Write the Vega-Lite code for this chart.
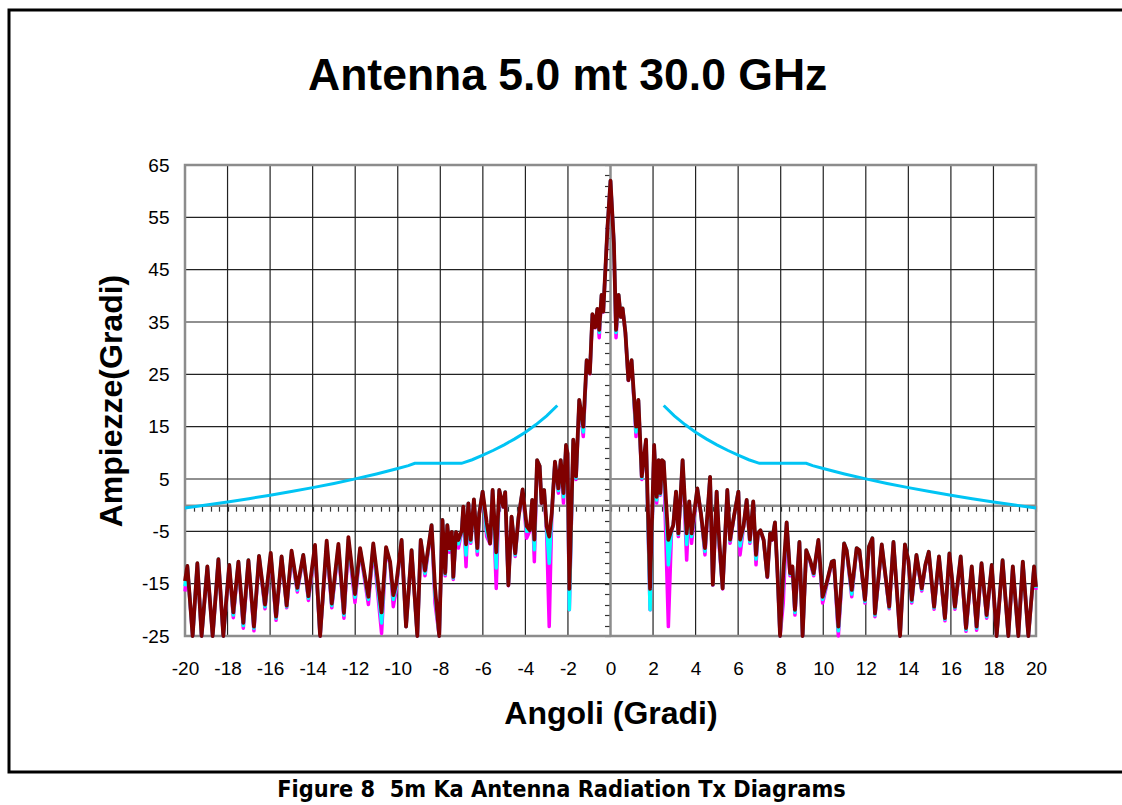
{
"$schema": "https://vega.github.io/schema/vega-lite/v6.json",
"autosize": {"type": "none"},
"padding": {"left": 9, "top": 10, "right": -20, "bottom": 33},
"width": 1133,
"height": 762,
"background": "white",
"config": {"view": {"stroke": "#000000", "strokeWidth": 3}, "font": "Liberation Sans"},
"title": {"text": "Antenna 5.0 mt 30.0 GHz", "font": "Liberation Sans", "fontSize": 44.5, "fontWeight": "bold", "color": "#000000", "anchor": "start", "frame": "group", "offset": -89, "dx": 299},
"resolve": {"axis": {"x": "independent", "y": "independent"}},
"datasets": {
"vgrid": [{"g":-18},{"g":-16},{"g":-14},{"g":-12},{"g":-10},{"g":-8},{"g":-6},{"g":-4},{"g":-2},{"g":2},{"g":4},{"g":6},{"g":8},{"g":10},{"g":12},{"g":14},{"g":16},{"g":18}],
"hgrid": [{"g":-15},{"g":-5},{"g":5},{"g":15},{"g":25},{"g":35},{"g":45},{"g":55}],
"mask": [
{"a":-20,"v":-0.53,"s":"L"},{"a":-19,"v":0.03,"s":"L"},{"a":-18,"v":0.62,"s":"L"},{"a":-17,"v":1.24,"s":"L"},{"a":-16,"v":1.9,"s":"L"},{"a":-15,"v":2.6,"s":"L"},{"a":-14,"v":3.35,"s":"L"},{"a":-13,"v":4.15,"s":"L"},{"a":-12,"v":5.02,"s":"L"},{"a":-11,"v":5.97,"s":"L"},{"a":-10,"v":7.0,"s":"L"},{"a":-9.5,"v":7.56,"s":"L"},{"a":-9.2,"v":8.0,"s":"L"},{"a":-7,"v":8.0,"s":"L"},{"a":-6.5,"v":8.68,"s":"L"},{"a":-6,"v":9.55,"s":"L"},{"a":-5.5,"v":10.49,"s":"L"},{"a":-5,"v":11.53,"s":"L"},{"a":-4.5,"v":12.67,"s":"L"},{"a":-4,"v":13.95,"s":"L"},{"a":-3.5,"v":15.4,"s":"L"},{"a":-3,"v":17.07,"s":"L"},{"a":-2.5,"v":19.05,"s":"L"},
{"a":2.5,"v":19.05,"s":"R"},{"a":3,"v":17.07,"s":"R"},{"a":3.5,"v":15.4,"s":"R"},{"a":4,"v":13.95,"s":"R"},{"a":4.5,"v":12.67,"s":"R"},{"a":5,"v":11.53,"s":"R"},{"a":5.5,"v":10.49,"s":"R"},{"a":6,"v":9.55,"s":"R"},{"a":6.5,"v":8.68,"s":"R"},{"a":7,"v":8.0,"s":"R"},{"a":9.2,"v":8.0,"s":"R"},{"a":9.5,"v":7.56,"s":"R"},{"a":10,"v":7.0,"s":"R"},{"a":11,"v":5.97,"s":"R"},{"a":12,"v":5.02,"s":"R"},{"a":13,"v":4.15,"s":"R"},{"a":14,"v":3.35,"s":"R"},{"a":15,"v":2.6,"s":"R"},{"a":16,"v":1.9,"s":"R"},{"a":17,"v":1.24,"s":"R"},{"a":18,"v":0.62,"s":"R"},{"a":19,"v":0.03,"s":"R"},{"a":20,"v":-0.53,"s":"R"}
],
"pattern": [
{"a":-20,"r":-14.5,"c":-15.5,"m":-16.5},
{"a":-19.89,"r":-11.6,"c":-11.6,"m":-11.8},
{"a":-19.64,"r":-28,"c":-28,"m":-28},
{"a":-19.42,"r":-11.1,"c":-11.1,"m":-11.3},
{"a":-19.22,"r":-26,"c":-26,"m":-26},
{"a":-18.95,"r":-11.7,"c":-11.7,"m":-11.9},
{"a":-18.7,"r":-28,"c":-28,"m":-28},
{"a":-18.43,"r":-10.3,"c":-10.3,"m":-10.5},
{"a":-18.2,"r":-28,"c":-28,"m":-28},
{"a":-17.92,"r":-11.4,"c":-11.4,"m":-11.6},
{"a":-17.73,"r":-20.5,"c":-21,"m":-21.5},
{"a":-17.49,"r":-10.8,"c":-10.8,"m":-11},
{"a":-17.26,"r":-22.5,"c":-23,"m":-23.5},
{"a":-17.02,"r":-10.5,"c":-10.5,"m":-10.7},
{"a":-16.76,"r":-23.2,"c":-23.5,"m":-24},
{"a":-16.52,"r":-9.7,"c":-9.7,"m":-9.9},
{"a":-16.24,"r":-19,"c":-19.4,"m":-19.8},
{"a":-15.97,"r":-9.1,"c":-9.2,"m":-9.6},
{"a":-15.72,"r":-21.3,"c":-21.6,"m":-22},
{"a":-15.46,"r":-9.8,"c":-9.8,"m":-10},
{"a":-15.22,"r":-19.2,"c":-19.4,"m":-19.6},
{"a":-14.99,"r":-8.7,"c":-9,"m":-9.5},
{"a":-14.72,"r":-15.8,"c":-16.2,"m":-16.6},
{"a":-14.44,"r":-9.5,"c":-9.5,"m":-9.7},
{"a":-14.2,"r":-17.4,"c":-17.8,"m":-18.2},
{"a":-13.89,"r":-7.6,"c":-8,"m":-8.6},
{"a":-13.65,"r":-28,"c":-28,"m":-28},
{"a":-13.34,"r":-6.8,"c":-7.2,"m":-7.9},
{"a":-13.1,"r":-18.8,"c":-19.2,"m":-19.6},
{"a":-12.79,"r":-7.4,"c":-7.8,"m":-8.3},
{"a":-12.53,"r":-20.6,"c":-21,"m":-21.6},
{"a":-12.32,"r":-6.1,"c":-6.6,"m":-7.4},
{"a":-12.01,"r":-17,"c":-17.6,"m":-18.6},
{"a":-11.77,"r":-8.2,"c":-8.4,"m":-8.6},
{"a":-11.38,"r":-17.5,"c":-18,"m":-19},
{"a":-11.15,"r":-7.3,"c":-7.6,"m":-8},
{"a":-10.76,"r":-20.5,"c":-22.5,"m":-24.5},
{"a":-10.55,"r":-8,"c":-8.2,"m":-8.5},
{"a":-10.36,"r":-10.8,"c":-11,"m":-11.3},
{"a":-10.21,"r":-17.2,"c":-18,"m":-19.4},
{"a":-10.07,"r":-15,"c":-15.5,"m":-16},
{"a":-9.82,"r":-6.65,"c":-6.7,"m":-6.9},
{"a":-9.61,"r":-23.2,"c":-23.2,"m":-23.2},
{"a":-9.35,"r":-8.6,"c":-8.6,"m":-8.8},
{"a":-9.08,"r":-28,"c":-28,"m":-28},
{"a":-8.92,"r":-6.65,"c":-6.65,"m":-6.8},
{"a":-8.72,"r":-12.5,"c":-13,"m":-13.5},
{"a":-8.41,"r":-3.8,"c":-3.8,"m":-4},
{"a":-8.25,"r":-15.6,"c":-17,"m":-18.7},
{"a":-8.05,"r":-28,"c":-28,"m":-28},
{"a":-7.9,"r":-2.8,"c":-2.8,"m":-2.9},
{"a":-7.77,"r":-13,"c":-13.2,"m":-13.5},
{"a":-7.67,"r":-3.8,"c":-3.8,"m":-3.9},
{"a":-7.57,"r":-8.2,"c":-8.5,"m":-9},
{"a":-7.46,"r":-5.1,"c":-5.1,"m":-5.2},
{"a":-7.39,"r":-13.7,"c":-13.9,"m":-14.2},
{"a":-7.26,"r":-5.1,"c":-5.1,"m":-5.2},
{"a":-7.15,"r":-6.65,"c":-7.4,"m":-8.2},
{"a":-6.99,"r":-4.8,"c":-4.8,"m":-4.9},
{"a":-6.92,"r":-0.3,"c":-0.3,"m":-0.4},
{"a":-6.79,"r":-7.5,"c":-9.5,"m":-11.75},
{"a":-6.68,"r":0.36,"c":0.36,"m":0.3},
{"a":-6.57,"r":-6.65,"c":-7,"m":-7.3},
{"a":-6.42,"r":1.1,"c":1.1,"m":1},
{"a":-6.26,"r":-8.2,"c":-8.8,"m":-9.5},
{"a":-6.17,"r":-1.6,"c":-1.6,"m":-1.7},
{"a":-6.01,"r":2.6,"c":2.6,"m":2.5},
{"a":-5.82,"r":-3.3,"c":-5,"m":-6},
{"a":-5.66,"r":-7.3,"c":-7.3,"m":-7.4},
{"a":-5.54,"r":2.9,"c":2.9,"m":2.8},
{"a":-5.37,"r":-9,"c":-12,"m":-15.9},
{"a":-5.23,"r":2.9,"c":2.9,"m":2.8},
{"a":-5.04,"r":-0.3,"c":-0.3,"m":-0.4},
{"a":-4.95,"r":2.5,"c":2.5,"m":2.4},
{"a":-4.8,"r":-15.3,"c":-15.3,"m":-15.4},
{"a":-4.65,"r":-2.2,"c":-2.2,"m":-2.3},
{"a":-4.48,"r":-9.2,"c":-9.5,"m":-9.8},
{"a":-4.32,"r":-2.2,"c":-2.2,"m":-2.3},
{"a":-4.13,"r":3,"c":3,"m":2.9},
{"a":-3.94,"r":-4,"c":-5,"m":-6.3},
{"a":-3.79,"r":-4.8,"c":-4.8,"m":-4.9},
{"a":-3.68,"r":1,"c":1,"m":0.9},
{"a":-3.58,"r":-6.6,"c":-8.5,"m":-10.8},
{"a":-3.45,"r":8.6,"c":8.6,"m":8.5},
{"a":-3.33,"r":7.5,"c":7.5,"m":7.4},
{"a":-3.24,"r":0.4,"c":0.4,"m":0.3},
{"a":-3.12,"r":2.9,"c":2.9,"m":2.8},
{"a":-3,"r":-4.1,"c":-4.5,"m":-5.5},
{"a":-2.88,"r":-6,"c":-11.1,"m":-23.2},
{"a":-2.76,"r":-1.5,"c":-1.5,"m":-1.6},
{"a":-2.61,"r":8.3,"c":8.3,"m":8.2},
{"a":-2.45,"r":3.2,"c":2.8,"m":2.3},
{"a":-2.34,"r":8.6,"c":8.6,"m":8.5},
{"a":-2.21,"r":2.3,"c":1.6,"m":0.4},
{"a":-2.09,"r":11.5,"c":11.5,"m":11.4},
{"a":-2.02,"r":9.9,"c":9.9,"m":9.8},
{"a":-1.935,"r":-16,"c":-20,"m":-20},
{"a":-1.75,"r":12.5,"c":12.5,"m":12.4},
{"a":-1.62,"r":5.5,"c":5.2,"m":4.9},
{"a":-1.47,"r":20.1,"c":20.1,"m":20},
{"a":-1.28,"r":15,"c":14,"m":13.1},
{"a":-1.12,"r":27.7,"c":27.7,"m":27.6},
{"a":-0.97,"r":25.2,"c":25.2,"m":25.1},
{"a":-0.85,"r":36.5,"c":36.5,"m":36.4},
{"a":-0.72,"r":34,"c":34,"m":33.9},
{"a":-0.62,"r":37.5,"c":37.5,"m":37.4},
{"a":-0.53,"r":33.5,"c":33,"m":32},
{"a":-0.42,"r":40.2,"c":40.2,"m":40.1},
{"a":-0.34,"r":37,"c":37,"m":36.9},
{"a":-0.14,"r":53.2,"c":53.2,"m":53.1},
{"a":0,"r":62,"c":62,"m":61.9},
{"a":0.16,"r":50,"c":50,"m":49.9},
{"a":0.26,"r":33.5,"c":33,"m":32},
{"a":0.38,"r":40.2,"c":40.2,"m":40.1},
{"a":0.48,"r":36,"c":36,"m":35.9},
{"a":0.57,"r":37.6,"c":37.6,"m":37.5},
{"a":0.7,"r":33,"c":33,"m":32.9},
{"a":0.84,"r":23.9,"c":23.9,"m":23.8},
{"a":0.99,"r":27.7,"c":27.7,"m":27.6},
{"a":1.2,"r":15,"c":14,"m":13.1},
{"a":1.31,"r":20.1,"c":20.1,"m":20},
{"a":1.47,"r":5.5,"c":5.2,"m":4.9},
{"a":1.67,"r":12.5,"c":12.5,"m":12.4},
{"a":1.86,"r":-16,"c":-20,"m":-20},
{"a":2.05,"r":11.5,"c":11.5,"m":11.4},
{"a":2.17,"r":1.6,"c":1,"m":0.4},
{"a":2.26,"r":8.6,"c":8.6,"m":8.5},
{"a":2.34,"r":2.3,"c":2.1,"m":1.9},
{"a":2.42,"r":8.6,"c":8.6,"m":8.5},
{"a":2.5,"r":8.3,"c":8.3,"m":8.2},
{"a":2.72,"r":-6.65,"c":-11.4,"m":-23.2},
{"a":2.87,"r":-4.7,"c":-4.7,"m":-4.8},
{"a":2.95,"r":-3.8,"c":-3.8,"m":-3.9},
{"a":3.08,"r":2.6,"c":2.6,"m":2.5},
{"a":3.19,"r":-5.4,"c":-5.6,"m":-6},
{"a":3.39,"r":8.6,"c":8.6,"m":8.5},
{"a":3.58,"r":-5.4,"c":-7.5,"m":-10.5},
{"a":3.7,"r":0.7,"c":0.7,"m":0.6},
{"a":3.81,"r":-5.4,"c":-6,"m":-7.3},
{"a":4.08,"r":3.2,"c":3.2,"m":3.1},
{"a":4.25,"r":-1.6,"c":-1.6,"m":-1.7},
{"a":4.44,"r":-8.2,"c":-8.8,"m":-9.5},
{"a":4.68,"r":5.4,"c":5.4,"m":5.3},
{"a":4.81,"r":-15.2,"c":-15.2,"m":-15.3},
{"a":4.99,"r":2.6,"c":2.6,"m":2.5},
{"a":5.11,"r":-6.65,"c":-7.2,"m":-7.9},
{"a":5.27,"r":-15.9,"c":-15.9,"m":-16},
{"a":5.49,"r":2.9,"c":2.9,"m":2.8},
{"a":5.62,"r":-6.6,"c":-6.8,"m":-7.3},
{"a":5.8,"r":-2.2,"c":-2.2,"m":-2.3},
{"a":6.01,"r":2.6,"c":2.6,"m":2.5},
{"a":6.09,"r":-6.6,"c":-7.8,"m":-9.5},
{"a":6.25,"r":-4.1,"c":-4.1,"m":-4.2},
{"a":6.4,"r":1,"c":1,"m":0.9},
{"a":6.55,"r":-6.6,"c":-7,"m":-7.3},
{"a":6.71,"r":0.7,"c":0.7,"m":0.6},
{"a":6.84,"r":-9.5,"c":-10.3,"m":-11.4},
{"a":6.93,"r":-5.4,"c":-5.4,"m":-5.5},
{"a":7.05,"r":-4.8,"c":-4.8,"m":-4.9},
{"a":7.2,"r":-6.65,"c":-6.7,"m":-6.8},
{"a":7.37,"r":-13.7,"c":-13.7,"m":-13.8},
{"a":7.5,"r":-5.4,"c":-5.4,"m":-5.5},
{"a":7.6,"r":-6.6,"c":-6.6,"m":-6.7},
{"a":7.73,"r":-3.3,"c":-3.3,"m":-3.4},
{"a":7.85,"r":-13,"c":-13,"m":-13.1},
{"a":7.97,"r":-28,"c":-28,"m":-28},
{"a":8.12,"r":-13,"c":-14.5,"m":-18.7},
{"a":8.28,"r":-3.3,"c":-3.3,"m":-3.4},
{"a":8.44,"r":-13,"c":-13.2,"m":-13.5},
{"a":8.55,"r":-11.7,"c":-11.8,"m":-12},
{"a":8.67,"r":-20,"c":-20.5,"m":-21},
{"a":8.88,"r":-7,"c":-7,"m":-7.2},
{"a":9.03,"r":-28,"c":-28,"m":-28},
{"a":9.2,"r":-8.6,"c":-8.6,"m":-8.8},
{"a":9.38,"r":-10.5,"c":-10.6,"m":-10.8},
{"a":9.55,"r":-13,"c":-13.2,"m":-13.5},
{"a":9.77,"r":-6.65,"c":-6.7,"m":-6.9},
{"a":9.97,"r":-17.5,"c":-18,"m":-18.7},
{"a":10.15,"r":-15,"c":-15.2,"m":-15.5},
{"a":10.4,"r":-10.8,"c":-10.8,"m":-11},
{"a":10.5,"r":-10.6,"c":-10.6,"m":-10.8},
{"a":10.71,"r":-23.2,"c":-24,"m":-25.5},
{"a":10.98,"r":-7.3,"c":-7.3,"m":-7.5},
{"a":11.1,"r":-8.6,"c":-8.6,"m":-8.8},
{"a":11.34,"r":-16.2,"c":-17,"m":-17.5},
{"a":11.57,"r":-8.2,"c":-8.2,"m":-8.4},
{"a":11.7,"r":-8.6,"c":-8.6,"m":-8.8},
{"a":11.96,"r":-18.1,"c":-18.4,"m":-18.7},
{"a":12.15,"r":-7.9,"c":-7.9,"m":-8.1},
{"a":12.31,"r":-6.3,"c":-6.3,"m":-6.5},
{"a":12.43,"r":-20.7,"c":-21,"m":-21.3},
{"a":12.75,"r":-7.5,"c":-7.5,"m":-7.7},
{"a":13.1,"r":-19.4,"c":-19.6,"m":-19.8},
{"a":13.3,"r":-7,"c":-7,"m":-7.2},
{"a":13.61,"r":-28,"c":-28,"m":-28},
{"a":13.84,"r":-7.5,"c":-7.5,"m":-7.7},
{"a":14,"r":-10.5,"c":-10.5,"m":-10.7},
{"a":14.16,"r":-18.1,"c":-18.4,"m":-18.7},
{"a":14.38,"r":-9.5,"c":-9.5,"m":-9.7},
{"a":14.63,"r":-15.9,"c":-16.1,"m":-16.4},
{"a":14.8,"r":-11.4,"c":-11.4,"m":-11.6},
{"a":14.96,"r":-8.9,"c":-8.9,"m":-9.1},
{"a":15.21,"r":-19.4,"c":-19.6,"m":-19.9},
{"a":15.44,"r":-9.8,"c":-9.8,"m":-10},
{"a":15.72,"r":-21.6,"c":-21.8,"m":-22.1},
{"a":15.93,"r":-9.2,"c":-9.2,"m":-9.4},
{"a":16.19,"r":-19.4,"c":-19.6,"m":-19.9},
{"a":16.46,"r":-9.8,"c":-9.8,"m":-10},
{"a":16.71,"r":-23.5,"c":-23.8,"m":-24.1},
{"a":16.98,"r":-11.7,"c":-11.7,"m":-11.9},
{"a":17.21,"r":-23.2,"c":-23.5,"m":-23.9},
{"a":17.44,"r":-11.1,"c":-11.1,"m":-11.3},
{"a":17.68,"r":-21,"c":-21.3,"m":-21.6},
{"a":17.92,"r":-11.4,"c":-11.4,"m":-11.6},
{"a":18.15,"r":-28,"c":-28,"m":-28},
{"a":18.43,"r":-10.5,"c":-10.5,"m":-10.7},
{"a":18.7,"r":-28,"c":-28,"m":-28},
{"a":18.91,"r":-11.7,"c":-11.7,"m":-11.9},
{"a":19.17,"r":-28,"c":-28,"m":-28},
{"a":19.38,"r":-10.8,"c":-10.8,"m":-11},
{"a":19.64,"r":-28,"c":-28,"m":-28},
{"a":19.91,"r":-11.7,"c":-11.7,"m":-11.9},
{"a":20,"r":-15.6,"c":-15.8,"m":-16.2}
]
},
"layer": [
{
"data": {"name": "vgrid"},
"mark": {"type": "rule", "color": "#222222", "strokeWidth": 1.2},
"encoding": {
"x": {"field": "g", "type": "quantitative",
 "scale": {"domain": [-20, 20], "range": [176, 1027], "nice": false, "zero": false},
 "axis": {"orient": "bottom", "offset": -136, "values": [-20,-18,-16,-14,-12,-10,-8,-6,-4,-2,0,2,4,6,8,10,12,14,16,18,20],
  "domain": false, "ticks": false, "tickSize": 0, "grid": false,
  "labelFont": "Liberation Sans", "labelFontSize": 19, "labelColor": "#000000", "labelPadding": 23,
  "labelFlush": false, "labelOverlap": false, "labelBound": false, "labelExpr": "'' + datum.value",
  "title": "Angoli (Gradi)", "titleFont": "Liberation Sans", "titleFontSize": 32, "titleFontWeight": "bold",
  "titleColor": "#000000", "titleBaseline": "alphabetic", "titleY": 87}},
"y": {"datum": -25, "type": "quantitative",
 "scale": {"domain": [-25, 65], "range": [626, 155], "nice": false, "zero": false, "clamp": true},
 "axis": {"orient": "left", "offset": -176, "values": [-25,-15,-5,5,15,25,35,45,55,65],
  "domain": false, "ticks": false, "tickSize": 0, "grid": false,
  "labelFont": "Liberation Sans", "labelFontSize": 19, "labelColor": "#000000", "labelPadding": 16,
  "labelFlush": false, "labelOverlap": false, "labelBound": false, "labelExpr": "'' + datum.value",
  "title": "Ampiezze(Gradi)", "titleFont": "Liberation Sans", "titleFontSize": 32, "titleFontWeight": "bold",
  "titleColor": "#000000", "titleBaseline": "alphabetic", "titleAngle": -90, "titleX": -64}},
"y2": {"datum": 65}
}
},
{
"data": {"name": "hgrid"},
"mark": {"type": "rule", "color": "#222222", "strokeWidth": 1.2},
"encoding": {
"y": {"field": "g", "type": "quantitative", "axis": null},
"x": {"datum": -20, "type": "quantitative", "axis": null},
"x2": {"datum": 20}
}
},
{
"data": {"values": [{}]},
"mark": {"type": "rule", "color": "#8c8c8c", "strokeWidth": 2.5},
"encoding": {
"x": {"datum": 0, "type": "quantitative",
 "axis": {"orient": "bottom", "offset": -266.83, "values": [-20,-19.6,-19.2,-18.8,-18.4,-18,-17.6,-17.2,-16.8,-16.4,-16,-15.6,-15.2,-14.8,-14.4,-14,-13.6,-13.2,-12.8,-12.4,-12,-11.6,-11.2,-10.8,-10.4,-10,-9.6,-9.2,-8.8,-8.4,-8,-7.6,-7.2,-6.8,-6.4,-6,-5.6,-5.2,-4.8,-4.4,-4,-3.6,-3.2,-2.8,-2.4,-2,-1.6,-1.2,-0.8,-0.4,0,0.4,0.8,1.2,1.6,2,2.4,2.8,3.2,3.6,4,4.4,4.8,5.2,5.6,6,6.4,6.8,7.2,7.6,8,8.4,8.8,9.2,9.6,10,10.4,10.8,11.2,11.6,12,12.4,12.8,13.2,13.6,14,14.4,14.8,15.2,15.6,16,16.4,16.8,17.2,17.6,18,18.4,18.8,19.2,19.6,20],
  "labels": false, "grid": false, "domain": true, "domainColor": "#8c8c8c", "domainWidth": 2.5,
  "ticks": true, "tickSize": 6, "tickColor": "#333333", "tickWidth": 1.2, "title": null}},
"y": {"datum": -25, "type": "quantitative",
 "axis": {"orient": "left", "offset": -601.5, "values": [-25,-23,-21,-19,-17,-15,-13,-11,-9,-7,-5,-3,-1,1,3,5,7,9,11,13,15,17,19,21,23,25,27,29,31,33,35,37,39,41,43,45,47,49,51,53,55,57,59,61,63,65],
  "labels": false, "grid": false, "domain": false,
  "ticks": true, "tickSize": 6, "tickColor": "#333333", "tickWidth": 1.2, "title": null}},
"y2": {"datum": 65}
}
},
{
"data": {"values": [{}]},
"mark": {"type": "rect", "fillOpacity": 0, "stroke": "#8c8c8c", "strokeWidth": 2.5},
"encoding": {
"x": {"datum": -20, "type": "quantitative",
 "axis": {"orient": "bottom", "offset": 0, "labels": false, "ticks": false, "domain": false, "grid": false,
  "title": "Figure 8\u00a0 5m Ka Antenna Radiation Tx Diagrams", "titleFont": "DejaVu Sans Condensed, DejaVu Sans", "titleFontSize": 23.3,
  "titleFontWeight": "bold", "titleColor": "#000000", "titleBaseline": "alphabetic", "titleAlign": "center",
  "titleX": 552, "titleY": 24}},
"x2": {"datum": 20},
"y": {"datum": -25, "type": "quantitative", "axis": null},
"y2": {"datum": 65}
}
},
{
"data": {"name": "mask"},
"mark": {"type": "line", "color": "#00C4F4", "strokeWidth": 3},
"encoding": {
"x": {"field": "a", "type": "quantitative", "axis": null},
"y": {"field": "v", "type": "quantitative", "axis": null},
"detail": {"field": "s"}
}
},
{
"data": {"name": "pattern"},
"mark": {"type": "line", "color": "#FF00FF", "strokeWidth": 3.5, "strokeJoin": "round"},
"encoding": {
"x": {"field": "a", "type": "quantitative", "axis": null},
"y": {"field": "m", "type": "quantitative", "axis": null}
}
},
{
"data": {"name": "pattern"},
"mark": {"type": "line", "color": "#00FFFF", "strokeWidth": 3.5, "strokeJoin": "round"},
"encoding": {
"x": {"field": "a", "type": "quantitative", "axis": null},
"y": {"field": "c", "type": "quantitative", "axis": null}
}
},
{
"data": {"name": "pattern"},
"mark": {"type": "line", "color": "#800000", "strokeWidth": 3.8, "strokeJoin": "round"},
"encoding": {
"x": {"field": "a", "type": "quantitative", "axis": null},
"y": {"field": "r", "type": "quantitative", "axis": null}
}
}
]
}
